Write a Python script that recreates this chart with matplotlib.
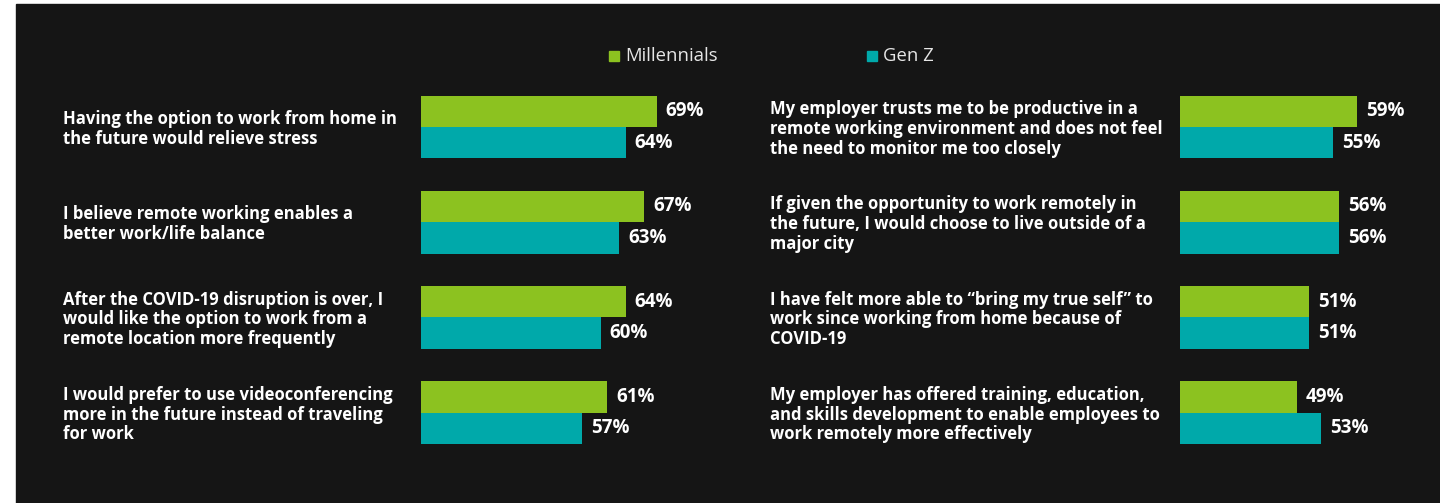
import matplotlib.pyplot as plt
import matplotlib.transforms as mtransforms
from matplotlib.patches import Rectangle

# Survey data (% agreeing)
left_labels = [
    "Having the option to work from home in\nthe future would relieve stress",
    "I believe remote working enables a\nbetter work/life balance",
    "After the COVID-19 disruption is over, I\nwould like the option to work from a\nremote location more frequently",
    "I would prefer to use videoconferencing\nmore in the future instead of traveling\nfor work",
]
left_millennials = [69, 67, 64, 61]
left_genz = [64, 63, 60, 57]

right_labels = [
    "My employer trusts me to be productive in a\nremote working environment and does not feel\nthe need to monitor me too closely",
    "If given the opportunity to work remotely in\nthe future, I would choose to live outside of a\nmajor city",
    "I have felt more able to \u201cbring my true self\u201d to\nwork since working from home because of\nCOVID-19",
    "My employer has offered training, education,\nand skills development to enable employees to\nwork remotely more effectively",
]
right_millennials = [59, 56, 51, 49]
right_genz = [55, 56, 51, 53]

series_names = ["Millennials", "Gen Z"]

GREEN = '#8cc220'
TEAL = '#00a9aa'
BG = '#151515'
W, H = 1440, 503

plt.rcParams['font.family'] = ['Open Sans', 'DejaVu Sans']

fig = plt.figure(figsize=(W / 100, H / 100), dpi=100, facecolor='white')
# dark panel (small white margin top/left as in source)
fig.patches.append(Rectangle((16 / W, 0), 1 - 16 / W, 1 - 4 / H,
                             transform=fig.transFigure, color=BG, zorder=-5))


def px_axes(x0, x1, y_top, y_bot):
    return fig.add_axes([x0 / W, 1 - y_bot / H, (x1 - x0) / W, (y_bot - y_top) / H])


def draw_panel(ax, labels, mil, genz, xlim, label_x):
    ax.set_facecolor('none')
    ax.axis('off')
    ys = list(range(len(labels)))
    bh = 0.33
    ax.barh([y - bh / 2 for y in ys], mil, height=bh, color=GREEN)
    ax.barh([y + bh / 2 for y in ys], genz, height=bh, color=TEAL)
    ax.set_xlim(*xlim)
    ax.set_ylim(3.5, -0.5)
    for y, m, g in zip(ys, mil, genz):
        ax.annotate(f"{m}%", (m, y - bh / 2), xytext=(6.5, 0), textcoords='offset points',
                    ha='left', va='center', color='white', fontsize=13.5, fontweight='bold',
                    annotation_clip=False)
        ax.annotate(f"{g}%", (g, y + bh / 2), xytext=(6.5, 0), textcoords='offset points',
                    ha='left', va='center', color='white', fontsize=13.5, fontweight='bold',
                    annotation_clip=False)
    trans = mtransforms.blended_transform_factory(fig.transFigure, ax.transData)
    for y, lab in zip(ys, labels):
        ax.text(label_x / W, y + 0.02, lab, transform=trans, ha='left', va='center',
                color='white', fontsize=12, fontweight='bold', linespacing=1.12,
                clip_on=False)


left_ax = px_axes(421, 421 + 6.2 * 44, 79.4, 460.2)
draw_panel(left_ax, left_labels, left_millennials, left_genz, (31, 75), 63)

right_ax = px_axes(1180, 1420, 79.4, 460.2)
draw_panel(right_ax, right_labels, right_millennials, right_genz, (29.5, 69.5), 770)

# legend
for name, color, x in zip(series_names, [GREEN, TEAL], [609, 867]):
    fig.patches.append(Rectangle((x / W, 1 - 61 / H), 10 / W, 10 / H,
                                 transform=fig.transFigure, color=color, zorder=2))
    fig.text((x + 16) / W, 1 - 56 / H, name, ha='left', va='center',
             color='#e6e6e6', fontsize=13.3)

fig.savefig('out.png', dpi=100, facecolor=fig.get_facecolor())
